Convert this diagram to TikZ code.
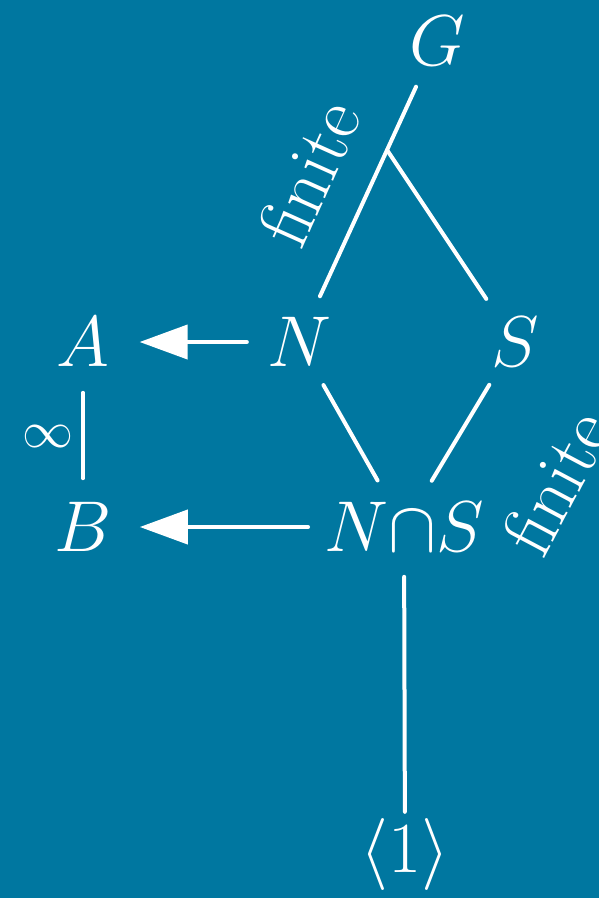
\RequirePackage{fix-cm}
\documentclass[tikz,border=0pt]{standalone}
\usetikzlibrary{arrows.meta,calc}
\definecolor{bg}{RGB}{0,119,160}
\begin{document}
\begin{tikzpicture}[x=1pt,y=-1pt,
  obj/.style={inner sep=0pt, text=white, font=\fontsize{72}{80}\selectfont},
  lbl/.style={inner sep=0pt, text=white, font=\fontsize{74}{80}\selectfont},
  ln/.style={white, line width=4pt, line cap=round},
  arr/.style={ln, -{Triangle[length=48pt,width=34pt]}}]
\fill[bg] (0,0) rectangle (599,898);
\useasboundingbox (0,0) rectangle (599,898);
\node[obj] (G) at (437,41) {$G$};
\node[obj] (A) at (83,342) {$A$};
\node[obj] (N) at (299,342) {$N$};
\node[obj] (S) at (515,342) {$S$};
\node[obj] (B) at (83,527) {$B$};
\node[obj] (NS) at (404,527) {$N{\cap}S$};
\node[obj] (one) at (405,854) {$\langle 1\rangle$};
\coordinate (m) at ($(N)!0.638!(G)$);
\node[lbl, rotate=65.8] (f1) at (309,173) {finite};
\node[lbl, rotate=62] (f2) at (556,482) {finite};
\node[inner sep=0pt, text=white, font=\fontsize{51}{55}\selectfont] (inf) at (48,437) {$\infty$};
\draw[ln, shorten <=23pt, shorten >=23pt] (N) -- (G);
\draw[ln, shorten <=22pt] (S) -- (m);
\draw[arr, shorten <=20pt, shorten >=30pt] (N) -- (A);
\draw[arr, shorten <=16pt, shorten >=28pt] (NS) -- (B);
\draw[ln, shorten <=26pt, shorten >=24pt] (A) -- (B);
\draw[ln, shorten <=21pt, shorten >=25pt] (N) -- (NS);
\draw[ln, shorten <=21pt, shorten >=25pt] (S) -- (NS);
\draw[ln, shorten <=25pt, shorten >=6pt] (NS) -- (one);
\end{tikzpicture}
\end{document}
